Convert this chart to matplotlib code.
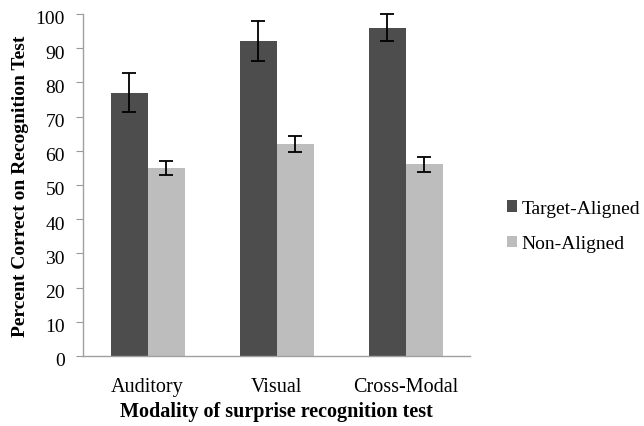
import matplotlib
matplotlib.use("Agg")
import matplotlib.pyplot as plt
import matplotlib.transforms as mtransforms
import numpy as np

categories = ["Auditory", "Visual", "Cross-Modal"]
series_names = ["Target-Aligned", "Non-Aligned"]
target_vals = [77, 92, 96]
target_err = [5.7, 5.8, 4.0]
non_vals = [55, 62, 56]
non_err = [2.1, 2.3, 2.2]
yticks = [0, 10, 20, 30, 40, 50, 60, 70, 80, 90, 100]

plt.rcParams['font.family'] = ['Liberation Serif', 'DejaVu Serif']

fig = plt.figure(figsize=(6.44, 4.27), dpi=100)
ax = fig.add_axes([0.129, 0.164, 0.601, 0.801])

x = np.arange(len(categories))
w = 0.287
ekw = dict(ecolor='black', elinewidth=1.3, capsize=5, capthick=1.3, clip_on=False)
b1 = ax.bar(x - w/2, target_vals, w, color='#4d4d4d', label=series_names[0],
            yerr=target_err, error_kw=ekw)
b2 = ax.bar(x + w/2, non_vals, w, color='#bdbdbd', label=series_names[1],
            yerr=non_err, error_kw=ekw)
for cont in (b1, b2):
    for art in cont.errorbar.lines[1] + cont.errorbar.lines[2]:
        art.set_clip_on(False)

ax.set_xlim(-0.5, 2.5)
ax.set_ylim(0, 100)
ax.set_yticks(yticks)
ax.set_xticks(x)
ax.set_xticklabels(categories)
ax.tick_params(axis='x', length=0, labelsize=14.5, pad=15)
ax.tick_params(axis='y', length=5, color='#999999', labelsize=14, direction='out', pad=8)
offset = mtransforms.ScaledTranslation(0, -3/100, fig.dpi_scale_trans)
for lab in ax.get_yticklabels():
    lab.set_transform(lab.get_transform() + offset)
for s in ['top', 'right']:
    ax.spines[s].set_visible(False)
for s in ['left', 'bottom']:
    ax.spines[s].set_color('#a0a0a0')
    ax.spines[s].set_linewidth(1.0)

ax.set_ylabel("Percent Correct on Recognition Test", fontsize=14, fontweight='bold', labelpad=5)
ax.set_xlabel("Modality of surprise recognition test", fontsize=14.5, fontweight='bold', labelpad=4)

fig.legend(loc='center left', bbox_to_anchor=(0.76, 0.468), frameon=False, fontsize=14,
           handlelength=0.5, handleheight=0.5, handletextpad=0.25, labelspacing=0.95)

fig.savefig("out.png", dpi=100)
